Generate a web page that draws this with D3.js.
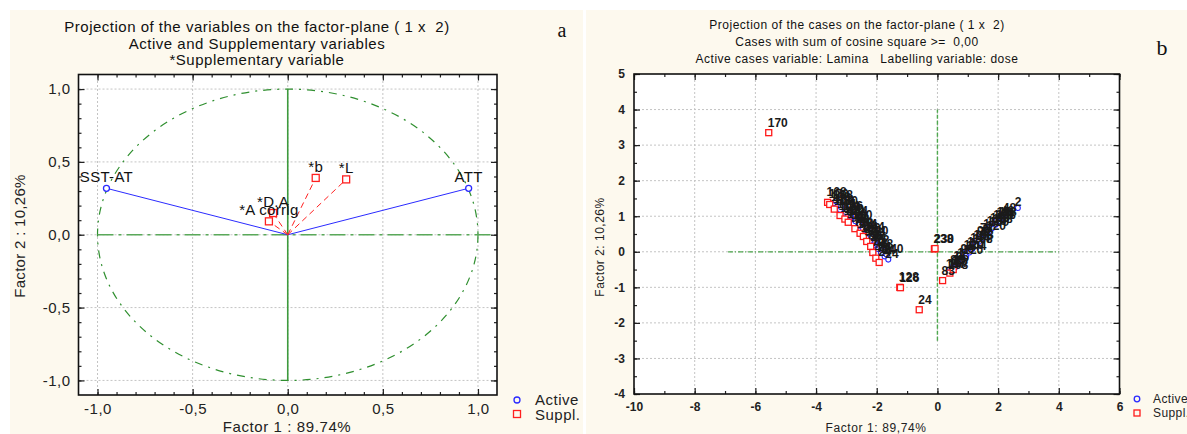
<!DOCTYPE html>
<html><head><meta charset="utf-8">
<script src="https://cdn.jsdelivr.net/npm/d3@7/dist/d3.min.js"></script>
<style>
html,body{margin:0;padding:0;background:#fff;}
svg{display:block;font-family:"Liberation Sans",Arial,sans-serif;}
svg text{white-space:pre;}
</style></head>
<body>
<svg id="chart" width="1187" height="434"></svg>
<script>
// ---------- Panel a data (variables) ----------
const activeVarNames = ["SST-AT", "ATT"];
const activeVarF1 = [-0.953, 0.951];
const activeVarF2 = [0.319, 0.319];
const suppVarNames = ["*b", "*L", "*D.A", "*A corrig"];
const suppVarF1 = [0.147, 0.307, -0.077, -0.099];
const suppVarF2 = [0.390, 0.380, 0.149, 0.092];
const ticksA = [-1.0, -0.5, 0.0, 0.5, 1.0];
const minorTicksA = [-1.0,-0.9,-0.8,-0.7,-0.6,-0.5,-0.4,-0.3,-0.2,-0.1,0,0.1,0.2,0.3,0.4,0.5,0.6,0.7,0.8,0.9,1.0];

// ---------- Panel b data (cases) ----------
const activeCaseLabels = ["168","168","171","144","150","120","96","72","144","120","96","72","48","48","24","34","24",
  "168","150","126","144","120","98","72","144","120","96","72","48","240",
  "157","83","1","1","96","120","1","144","168","96","72","1","120","150","168","198","48","2",
  "168","1","96","1","120","144","1","168","96","72","1","120","150","168","198","18","48"];
const activeCaseF1 = [-3.42,-3.30,-3.21,-3.08,-2.97,-2.88,-2.76,-2.64,-2.55,-2.43,-2.31,-2.22,-2.10,-1.98,-1.86,-1.74,-1.62,
  -3.35,-3.18,-3.02,-2.85,-2.70,-2.58,-2.45,-2.30,-2.18,-2.05,-1.92,-1.80,-1.68,
  0.38,0.52,0.63,0.75,0.86,0.97,1.08,1.18,1.29,1.40,1.50,1.61,1.72,1.83,1.94,2.05,2.19,2.65,
  0.45,0.58,0.70,0.82,0.95,1.05,1.15,1.26,1.37,1.48,1.58,1.70,1.80,1.92,2.02,2.12,2.25];
const activeCaseF2 = [1.36,1.27,1.18,1.07,0.98,0.90,0.79,0.68,0.60,0.49,0.38,0.30,0.19,0.08,-0.04,-0.13,-0.22,
  1.42,1.26,1.12,0.99,0.86,0.76,0.64,0.52,0.41,0.28,0.17,0.05,-0.08,
  -0.51,-0.40,-0.30,-0.19,-0.09,0.02,0.12,0.21,0.31,0.41,0.50,0.60,0.69,0.78,0.87,0.95,0.98,1.23,
  -0.55,-0.44,-0.32,-0.22,-0.12,-0.02,0.08,0.18,0.28,0.38,0.47,0.57,0.66,0.76,0.86,0.94,1.05];
const suppCaseLabels = ["168","170","168","144","120","96","72","48","24","144","96","72","48","24",
  "170","128","126","24","238","230","83","157","15"];
const suppCaseF1 = [-3.62,-3.55,-3.40,-3.21,-3.05,-2.94,-2.72,-2.55,-2.44,-2.33,-2.20,-2.13,-2.03,-1.92,
  -5.56,-1.24,-1.22,-0.60,-0.10,-0.08,0.17,0.41,0.52];
const suppCaseF2 = [1.39,1.33,1.20,1.02,0.92,0.83,0.65,0.52,0.43,0.29,0.15,-0.02,-0.18,-0.30,
  3.35,-1.00,-1.01,-1.63,0.08,0.09,-0.81,-0.60,-0.50];
const ticksBX = [-10,-8,-6,-4,-2,0,2,4,6];
const minorTicksBX = [-10,-9,-8,-7,-6,-5,-4,-3,-2,-1,0,1,2,3,4,5,6];
const ticksBY = [-4,-3,-2,-1,0,1,2,3,4,5];
const minorTicksBY = [-4,-3.5,-3,-2.5,-2,-1.5,-1,-0.5,0,0.5,1,1.5,2,2.5,3,3.5,4,4.5,5];

const titleA = ["Projection of the variables on the factor-plane ( 1 x  2)", "Active and Supplementary variables", "*Supplementary variable"];
const titleB = ["Projection of the cases on the factor-plane ( 1 x  2)", "Cases with sum of cosine square >=  0,00", "Active cases variable: Lamina   Labelling variable: dose"];

// ---------- drawing ----------
const svg = d3.select("#chart");
const CREAM = "#fdf9ee";
svg.append("rect").attr("x",10).attr("y",10).attr("width",573).attr("height",424).attr("fill",CREAM);
svg.append("rect").attr("x",586).attr("y",10).attr("width",601).attr("height",424).attr("fill",CREAM);

function drawFrame(g, x, y, opts) {
  const [x0,x1] = x.range(), [y0,y1] = y.range();
  g.append("rect").attr("x",x0).attr("y",y1).attr("width",x1-x0).attr("height",y0-y1).attr("fill","#fff");
  g.selectAll(null).data(opts.gridX).join("line")
    .attr("x1",d=>x(d)).attr("x2",d=>x(d)).attr("y1",y0).attr("y2",y1)
    .attr("stroke","#c4c4c4").attr("stroke-width",1).attr("stroke-dasharray","2,2");
  g.selectAll(null).data(opts.gridY).join("line")
    .attr("y1",d=>y(d)).attr("y2",d=>y(d)).attr("x1",x0).attr("x2",x1)
    .attr("stroke","#c4c4c4").attr("stroke-width",1).attr("stroke-dasharray","2,2");
}

function drawAxes(g, x, y, opts) {
  const [x0,x1] = x.range(), [y0,y1] = y.range();
  const styleAxis = sel => { sel.select(".domain").remove(); sel.selectAll("line").attr("stroke","#222").attr("stroke-width",1.2); };
  g.append("g").attr("transform",`translate(0,${y0})`).call(d3.axisBottom(x).tickValues(opts.minorX).tickSize(-3).tickFormat("")).call(styleAxis);
  g.append("g").attr("transform",`translate(0,${y1})`).call(d3.axisTop(x).tickValues(opts.minorX).tickSize(-3).tickFormat("")).call(styleAxis);
  g.append("g").attr("transform",`translate(${x0},0)`).call(d3.axisLeft(y).tickValues(opts.minorY).tickSize(-3).tickFormat("")).call(styleAxis);
  g.append("g").attr("transform",`translate(${x1},0)`).call(d3.axisRight(y).tickValues(opts.minorY).tickSize(-3).tickFormat("")).call(styleAxis);
  const bx = g.append("g").attr("transform",`translate(0,${y0})`).call(d3.axisBottom(x).tickValues(opts.majorX).tickSize(-6).tickPadding(opts.padX).tickFormat(opts.fmt)).call(styleAxis);
  g.append("g").attr("transform",`translate(0,${y1})`).call(d3.axisTop(x).tickValues(opts.majorX).tickSize(-6).tickFormat("")).call(styleAxis);
  const ly = g.append("g").attr("transform",`translate(${x0},0)`).call(d3.axisLeft(y).tickValues(opts.majorY).tickSize(-6).tickPadding(opts.padY).tickFormat(opts.fmt)).call(styleAxis);
  g.append("g").attr("transform",`translate(${x1},0)`).call(d3.axisRight(y).tickValues(opts.majorY).tickSize(-6).tickFormat("")).call(styleAxis);
  [bx, ly].forEach(a => a.selectAll("text").attr("font-size",opts.fs).attr("fill","#222")
    .attr("font-family","Liberation Sans, Arial, sans-serif").attr("font-weight",opts.fw||"normal").attr("letter-spacing",opts.ls||0));
  g.append("rect").attr("x",x0).attr("y",y1).attr("width",x1-x0).attr("height",y0-y1)
    .attr("fill","none").attr("stroke","#111").attr("stroke-width",1.6);
}

// ===== Panel a =====
const xA = d3.scaleLinear().domain([-1.1,1.1]).range([78.5,497]);
const yA = d3.scaleLinear().domain([-1.1,1.1]).range([395,74.5]);
const gA = svg.append("g");
const fmtA = v => v.toFixed(1).replace(".", ",");
drawFrame(gA, xA, yA, {gridX: ticksA, gridY: ticksA});

gA.append("ellipse").attr("cx",xA(0)).attr("cy",yA(0))
  .attr("rx",xA(1)-xA(0)).attr("ry",yA(0)-yA(1))
  .attr("fill","none").attr("stroke","#2f8f2f").attr("stroke-width",1.2).attr("stroke-dasharray","8,6,2,6");
gA.append("line").attr("x1",xA(-1)).attr("x2",xA(1.08)).attr("y1",yA(0)).attr("y2",yA(0))
  .attr("stroke","#5aa95a").attr("stroke-width",1.6).attr("stroke-dasharray","16,5,3,5");
gA.append("line").attr("x1",xA(0)).attr("x2",xA(0)).attr("y1",yA(-1)).attr("y2",yA(1))
  .attr("stroke","#3d9a3d").attr("stroke-width",1.6);

activeVarNames.forEach((n,i)=>{
  gA.append("line").attr("x1",xA(0)).attr("y1",yA(0)).attr("x2",xA(activeVarF1[i])).attr("y2",yA(activeVarF2[i]))
    .attr("stroke","#2b2bff").attr("stroke-width",1);
});
suppVarNames.forEach((n,i)=>{
  gA.append("line").attr("x1",xA(0)).attr("y1",yA(0)).attr("x2",xA(suppVarF1[i])).attr("y2",yA(suppVarF2[i]))
    .attr("stroke","#ff2020").attr("stroke-width",1).attr("stroke-dasharray","6,4");
});
activeVarNames.forEach((n,i)=>{
  gA.append("circle").attr("cx",xA(activeVarF1[i])).attr("cy",yA(activeVarF2[i])).attr("r",3)
    .attr("fill","#fff").attr("stroke","#2b2bff").attr("stroke-width",1.3);
});
suppVarNames.forEach((n,i)=>{
  gA.append("rect").attr("x",xA(suppVarF1[i])-3.5).attr("y",yA(suppVarF2[i])-3.5).attr("width",7).attr("height",7)
    .attr("fill","#fff").attr("stroke","#ff2020").attr("stroke-width",1.3);
});
const labA = activeVarNames.map((n,i)=>({n, x:activeVarF1[i], y:activeVarF2[i]}))
  .concat(suppVarNames.map((n,i)=>({n, x:suppVarF1[i], y:suppVarF2[i]})));
gA.selectAll(null).data(labA).join("text")
  .attr("x",d=>xA(d.x)).attr("y",d=>yA(d.y)-6).attr("text-anchor","middle")
  .attr("font-size",15).attr("letter-spacing",0.3).attr("fill","#111").text(d=>d.n);

drawAxes(gA, xA, yA, {majorX: ticksA, majorY: ticksA, minorX: minorTicksA, minorY: minorTicksA, fmt: fmtA, fs: 15, ls: 0.5, padX: 8, padY: 8});

gA.selectAll(null).data(titleA).join("text")
  .attr("x",257).attr("y",(d,i)=>32+i*16.5).attr("text-anchor","middle")
  .attr("font-size",15).attr("letter-spacing",0.5).attr("fill","#111").text(d=>d);
gA.append("text").attr("x",287).attr("y",432).attr("text-anchor","middle").attr("font-size",15).attr("letter-spacing",0.6).attr("fill","#222").text("Factor 1 : 89.74%");
gA.append("text").attr("transform","translate(25,236) rotate(-90)").attr("text-anchor","middle").attr("font-size",15).attr("letter-spacing",0.3).attr("fill","#222").text("Factor 2 : 10,26%");
gA.append("text").attr("x",562).attr("y",37).attr("text-anchor","middle").attr("font-family","Liberation Serif, Times New Roman, serif").attr("font-size",20).attr("fill","#111").text("a");
gA.append("circle").attr("cx",517).attr("cy",400).attr("r",3).attr("fill","none").attr("stroke","#2b2bff").attr("stroke-width",1.3);
gA.append("rect").attr("x",513.5).attr("y",410.5).attr("width",7).attr("height",7).attr("fill","none").attr("stroke","#ff2020").attr("stroke-width",1.3);
gA.append("text").attr("x",535).attr("y",405).attr("font-size",15).attr("letter-spacing",0.5).attr("fill","#222").text("Active");
gA.append("text").attr("x",535).attr("y",420).attr("font-size",15).attr("letter-spacing",0.5).attr("fill","#222").text("Suppl.");

// ===== Panel b =====
const xB = d3.scaleLinear().domain([-10,6]).range([634,1119.5]);
const yB = d3.scaleLinear().domain([-4,5]).range([394,74]);
const gB = svg.append("g");
drawFrame(gB, xB, yB, {gridX: ticksBX.slice(1,-1), gridY: ticksBY.slice(1,-1)});

gB.append("line").attr("x1",xB(-6.9)).attr("x2",xB(4)).attr("y1",yB(0)).attr("y2",yB(0))
  .attr("stroke","#4fa84f").attr("stroke-width",1.2).attr("stroke-dasharray","5,2,1,2");
gB.append("line").attr("x1",xB(0)).attr("x2",xB(0)).attr("y1",yB(-2.5)).attr("y2",yB(4))
  .attr("stroke","#4fa84f").attr("stroke-width",1.4).attr("stroke-dasharray","4,2");

activeCaseLabels.forEach((n,i)=>{
  gB.append("circle").attr("cx",xB(activeCaseF1[i])).attr("cy",yB(activeCaseF2[i])).attr("r",2.5)
    .attr("fill","#fff").attr("stroke","#2b2bff").attr("stroke-width",1.1);
});
suppCaseLabels.forEach((n,i)=>{
  gB.append("rect").attr("x",xB(suppCaseF1[i])-3).attr("y",yB(suppCaseF2[i])-3).attr("width",6).attr("height",6)
    .attr("fill","#fff").attr("stroke","#ff1a1a").attr("stroke-width",1.3);
});
const labB = activeCaseLabels.map((n,i)=>({n, x:activeCaseF1[i], y:activeCaseF2[i], a:true}))
  .concat(suppCaseLabels.map((n,i)=>({n, x:suppCaseF1[i], y:suppCaseF2[i], a:false})));
gB.selectAll(null).data(labB).join("text")
  .attr("x",d=>xB(d.x)-(d.a?3:1)).attr("y",d=>yB(d.y)-(d.a?2:6))
  .attr("font-size",12).attr("font-weight","bold").attr("fill","#1a1a1a").text(d=>d.n);

drawAxes(gB, xB, yB, {majorX: ticksBX, majorY: ticksBY, minorX: minorTicksBX, minorY: minorTicksBY, fmt: d=>String(d), fs: 12, fw: "bold", padX: 8, padY: 9});

gB.selectAll(null).data(titleB).join("text")
  .attr("x",857).attr("y",(d,i)=>29+i*17).attr("text-anchor","middle")
  .attr("font-size",12).attr("letter-spacing",0.5).attr("fill","#111").text(d=>d);
gB.append("text").attr("x",876).attr("y",432).attr("text-anchor","middle").attr("font-size",12).attr("letter-spacing",0.6).attr("fill","#222").text("Factor 1: 89,74%");
gB.append("text").attr("transform","translate(604,247) rotate(-90)").attr("text-anchor","middle").attr("font-size",12).attr("letter-spacing",0.5).attr("fill","#222").text("Factor 2: 10,26%");
gB.append("text").attr("x",1162).attr("y",55).attr("text-anchor","middle").attr("font-family","Liberation Serif, Times New Roman, serif").attr("font-size",22).attr("fill","#111").text("b");
gB.append("circle").attr("cx",1137).attr("cy",399).attr("r",2.8).attr("fill","none").attr("stroke","#2b2bff").attr("stroke-width",1.3);
gB.append("rect").attr("x",1134).attr("y",410).attr("width",6).attr("height",6).attr("fill","none").attr("stroke","#ff1a1a").attr("stroke-width",1.3);
gB.append("text").attr("x",1153).attr("y",403).attr("font-size",12).attr("letter-spacing",0.4).attr("fill","#222").text("Active");
gB.append("text").attr("x",1153).attr("y",417).attr("font-size",12).attr("letter-spacing",0.4).attr("fill","#222").text("Suppl.");
</script>
</body></html>
